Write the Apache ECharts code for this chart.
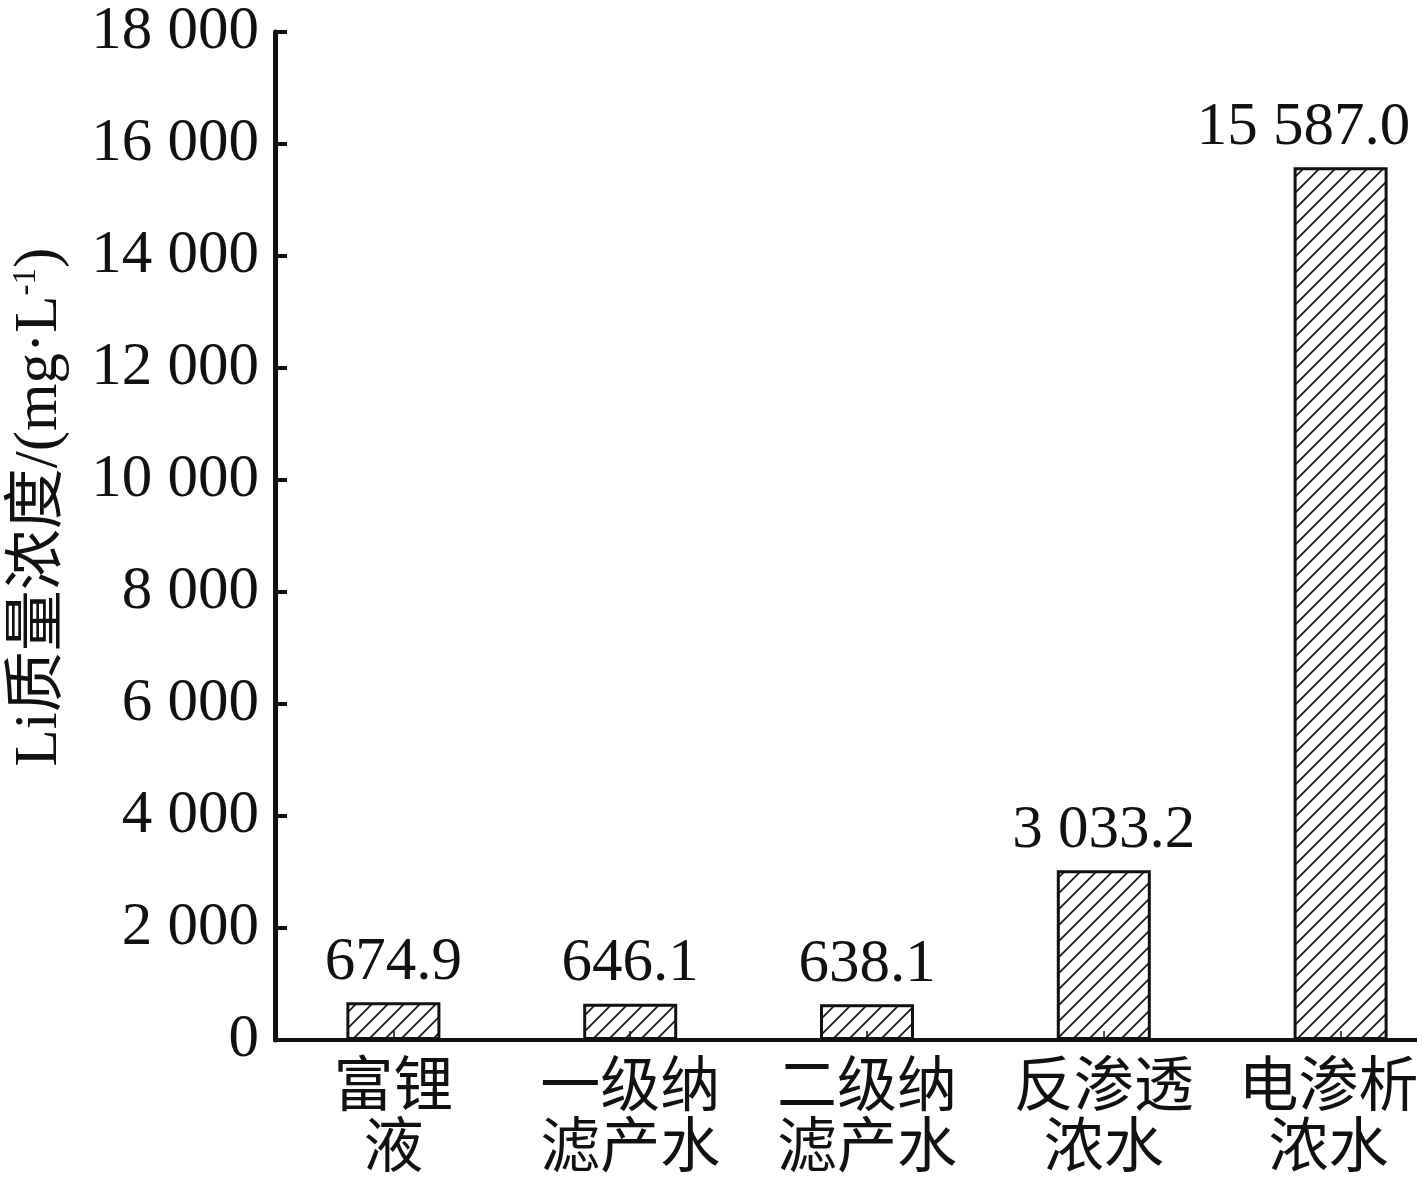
<!DOCTYPE html>
<html><head><meta charset="utf-8">
<script src="https://cdn.jsdelivr.net/npm/echarts@6/dist/echarts.min.js"></script>
<style>html,body{margin:0;padding:0;background:#fff;overflow:hidden}#c{width:1459px;height:1186px}</style>
</head><body><div id="c"></div>
<script>
const categories = ['富锂\n液', '一级纳\n滤产水', '二级纳\n滤产水', '反渗透\n浓水', '电渗析\n浓水'];
const values = [674.9, 646.1, 638.1, 3033.2, 15587.0];
const yMin = 0, yMax = 18000, yInterval = 2000;
const yTitle = 'Li质量浓度/(mg·L';

const FONT = '"Liberation Serif","Noto Sans CJK SC",serif';
function fmt(v, dec) {
  const s = v.toFixed(dec);
  const parts = s.split('.');
  parts[0] = parts[0].replace(/\B(?=(\d{3})+(?!\d))/g, ' ');
  return parts.join('.');
}
// hatch pattern
const pc = document.createElement('canvas');
const P = 16; pc.width = P; pc.height = P;
const g = pc.getContext('2d');
g.strokeStyle = '#111'; g.lineWidth = 1.6;
g.beginPath();
g.moveTo(0, P); g.lineTo(P, 0);
g.moveTo(-P/2, P/2); g.lineTo(P/2, -P/2);
g.moveTo(P/2, P*1.5); g.lineTo(P*1.5, P/2);
g.stroke();

const last = values.length - 1;
const catData = categories.map((c, i) => i === last ? {value: c, textStyle: {padding: [0, 24, 0, 0]}} : c);
const barData = values.map((v, i) => i === last ? {value: v, label: {offset: [-37, 0]}} : v);

const chart = echarts.init(document.getElementById('c'), null, {renderer: 'canvas'});
chart.setOption({
  backgroundColor: '#fff',
  animation: false,
  grid: {left: 275, top: 32, right: 0, bottom: 146, containLabel: false},
  xAxis: {
    type: 'category', data: catData,
    axisLine: {lineStyle: {color: '#111', width: 4}},
    axisTick: {show: true, inside: true, length: 9, alignWithLabel: true, lineStyle: {color: '#111', width: 1.5}},
    axisLabel: {fontFamily: FONT, fontSize: 60, color: '#111', lineHeight: 61, margin: 20, interval: 0}
  },
  yAxis: {
    type: 'value', min: yMin, max: yMax, interval: yInterval,
    splitLine: {show: false},
    axisLine: {show: true, lineStyle: {color: '#111', width: 5}},
    axisTick: {show: true, inside: true, length: 12, lineStyle: {color: '#111', width: 4}},
    axisLabel: {fontFamily: FONT, fontSize: 61, color: '#111', margin: 16, formatter: v => fmt(v, 0)}
  },
  graphic: [{
    type: 'text', x: 40, y: 507, rotation: Math.PI/2,
    style: {
      text: '{a|' + yTitle + '}{s|-1}{a|)}',
      align: 'center', verticalAlign: 'middle',
      rich: {
        a: {fontFamily: FONT, fontSize: 61, fill: '#111'},
        s: {fontFamily: FONT, fontSize: 33, fill: '#111', verticalAlign: 'top', padding: [0,0,26,0]}
      }
    }
  }],
  series: [{
    type: 'bar', data: barData, barWidth: 94,
    itemStyle: {color: {image: pc, repeat: 'repeat'}, borderColor: '#111', borderWidth: 3},
    label: {show: true, position: 'top', distance: 9, fontFamily: FONT, fontSize: 61, color: '#111',
      formatter: p => fmt(p.value, 1)}
  }]
});
</script></body></html>
